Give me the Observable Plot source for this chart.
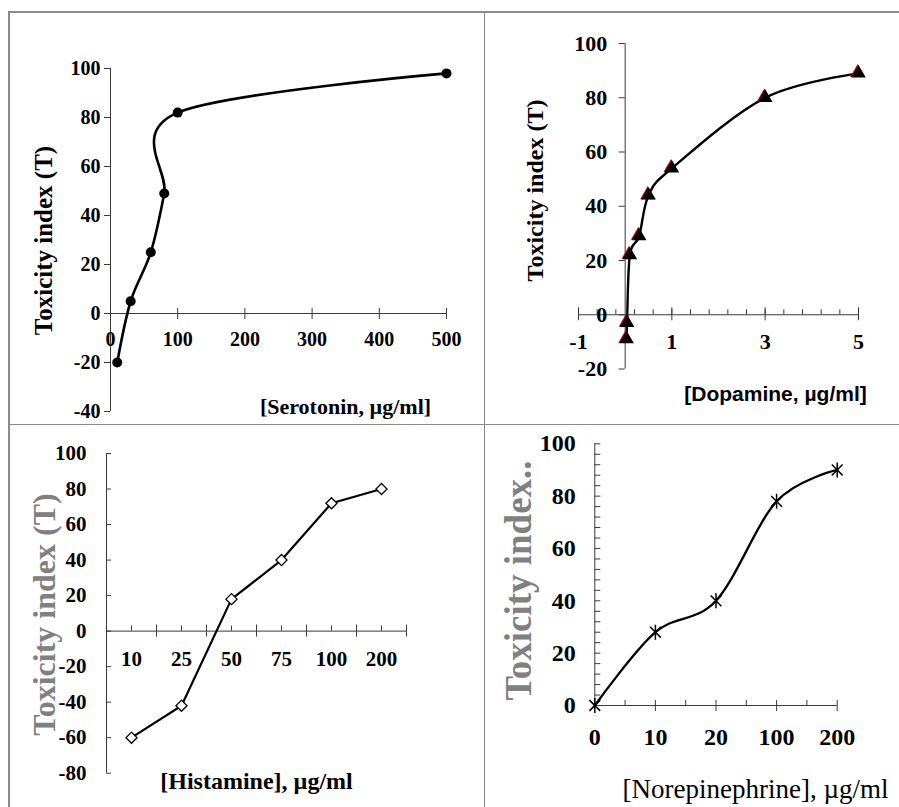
<!DOCTYPE html>
<html>
<head>
<meta charset="utf-8">
<script src="https://cdn.jsdelivr.net/npm/d3@7"></script>
<script src="https://cdn.jsdelivr.net/npm/@observablehq/plot@0.6"></script>
<style>
  html, body { margin: 0; padding: 0; background: #fff; }
  #page { position: relative; width: 899px; height: 807px; overflow: hidden; background: #fff; }
  .frame { position: absolute; background: #8a8a8a; }
</style>
</head>
<body>
<div id="page">
  <div class="frame" style="left:8px; top:11px; width:891px; height:1.5px"></div>
  <div class="frame" style="left:8px; top:11px; width:1.5px; height:796px"></div>
  <div class="frame" style="left:483.5px; top:11px; width:1.5px; height:796px"></div>
  <div class="frame" style="left:8px; top:423.5px; width:891px; height:1.5px"></div>
</div>
<script>
// ---------- data ----------
// Serotonin
const seroConc = [10, 30, 60, 80, 100, 500];
const seroTox = [-20, 5, 25, 49, 82, 98];
const seroXTicks = [0, 100, 200, 300, 400, 500];
const seroYTicks = [-40, -20, 0, 20, 40, 60, 80, 100];
// Dopamine
const dopaConc = [0.03, 0.04, 0.1, 0.3, 0.5, 1, 3, 5];
const dopaTox = [-9, -3, 22, 29, 44, 54, 80, 89];
const dopaXLabels = [-1, 1, 3, 5];
const dopaXMinor = [-1, -0.6, -0.2, 0.2, 0.6, 1, 1.4, 1.8, 2.2, 2.6, 3, 3.4, 3.8, 4.2, 4.6, 5];
const dopaYTicks = [-20, 0, 20, 40, 60, 80, 100];
// Histamine
const histCats = ["10", "25", "50", "75", "100", "200"];
const histTox = [-60, -42, 18, 40, 72, 80];
const histYTicks = [-80, -60, -40, -20, 0, 20, 40, 60, 80, 100];
// Norepinephrine
const norCats = ["0", "10", "20", "100", "200"];
const norTox = [0, 28, 40, 78, 90];
const norYLabels = [0, 20, 40, 60, 80, 100];
const norYMinor = [0, 4, 8, 12, 16, 20, 24, 28, 32, 36, 40, 44, 48, 52, 56, 60, 64, 68, 72, 76, 80, 84, 88, 92, 96, 100];

// ---------- helpers ----------
const SERIF = "'Liberation Serif', 'Times New Roman', serif";
const SANS = "'Liberation Sans', Arial, sans-serif";
const AX = "#3a3a3a";
const page = document.getElementById("page");

function layer(xOpt, yOpt, marks) {
  const svg = Plot.plot({
    width: 899, height: 807, margin: 0,
    x: {...xOpt, axis: null},
    y: {...yOpt, axis: null},
    style: {background: "transparent", position: "absolute", left: "0px", top: "0px", overflow: "visible"},
    marks
  });
  page.appendChild(svg);
  return svg;
}
function title(text, x, y, opts) {
  return Plot.text([text], {
    frameAnchor: "top-left", dx: x, dy: y, textAnchor: "middle", lineAnchor: "middle",
    fontFamily: SERIF, fontWeight: "bold", fill: "black", ...opts
  });
}

const starSymbol = {
  draw(ctx, size) {
    const r = Math.sqrt(size / Math.PI), a = r * 0.72;
    ctx.moveTo(0, -r); ctx.lineTo(0, r);
    ctx.moveTo(-a, -a); ctx.lineTo(a, a);
    ctx.moveTo(-a, a); ctx.lineTo(a, -a);
  }
};

// ---------- Panel 1: Serotonin ----------
const sero = seroConc.map((c, i) => ({c, t: seroTox[i]}));
layer({domain: [0, 500], range: [110, 446]}, {domain: [-40, 100], range: [411, 68]}, [
  Plot.ruleX([0], {y1: -40, y2: 100, stroke: AX}),
  Plot.ruleY([0], {x1: 0, x2: 500, stroke: AX}),
  Plot.ruleY(seroYTicks, {x1: 0, x2: 0, insetLeft: -6, insetRight: 0, stroke: AX}),
  Plot.ruleX(seroXTicks.filter(d => d !== 0), {y1: 0, y2: 0, insetTop: -5, insetBottom: -6, stroke: AX}),
  Plot.text(seroYTicks, {x: 0, y: d => d, text: d => String(d), textAnchor: "end", dx: -10, fontFamily: SERIF, fontWeight: "bold", fontSize: 20}),
  Plot.text(seroXTicks, {x: d => d, y: 0, text: d => String(d), dy: 26, fontFamily: SERIF, fontWeight: "bold", fontSize: 20}),
  Plot.line(sero, {x: "c", y: "t", curve: "cardinal", stroke: "black", strokeWidth: 2.6}),
  Plot.dot(sero, {x: "c", y: "t", r: 5, fill: "black"}),
  title("Toxicity index (T)", 43, 240, {rotate: -90, fontSize: 25}),
  title("[Serotonin, µg/ml]", 345, 406, {fontSize: 22})
]);

// ---------- Panel 2: Dopamine ----------
const dopa = dopaConc.map((c, i) => ({c, t: dopaTox[i]}));
layer({domain: [-1, 5], range: [578, 858]}, {domain: [-20, 100], range: [368.5, 43]}, [
  Plot.ruleX([0], {y1: -20, y2: 100, stroke: AX}),
  Plot.ruleY([0], {x1: -1, x2: 5, stroke: AX}),
  Plot.ruleY(dopaYTicks, {x1: 0, x2: 0, insetLeft: -6, insetRight: 0, stroke: AX}),
  Plot.ruleX(dopaXMinor, {y1: 0, y2: 0, insetTop: -5, insetBottom: 0, stroke: AX}),
  Plot.ruleX(dopaXLabels, {y1: 0, y2: 0, insetTop: -7, insetBottom: -6, stroke: AX}),
  Plot.text(dopaYTicks, {x: 0, y: d => d, text: d => String(d), textAnchor: "end", dx: -18, fontFamily: SERIF, fontWeight: "bold", fontSize: 22}),
  Plot.text(dopaXLabels, {x: d => d, y: 0, text: d => String(d), dy: 27, fontFamily: SERIF, fontWeight: "bold", fontSize: 22}),
  Plot.line(dopa, {x: "c", y: "t", curve: "cardinal", stroke: "black", strokeWidth: 2.4}),
  Plot.dot(dopa, {x: "c", y: "t", symbol: "triangle", r: 5.6, fill: "#c00000", dx: -0.8, dy: -0.6}),
  Plot.dot(dopa, {x: "c", y: "t", symbol: "triangle", r: 5.4, fill: "black"}),
  title("Toxicity index (T)", 535, 190, {rotate: -90, fontSize: 24}),
  title("[Dopamine, µg/ml]", 775, 394, {fontSize: 21, fontFamily: SANS})
]);

// ---------- Panel 3: Histamine ----------
const hist = histCats.map((cat, i) => ({i, cat, t: histTox[i]}));
const histBounds = histCats.map((cat, i) => i + 0.5);
layer({domain: [-0.5, histCats.length - 0.5], range: [106, 406]}, {domain: [-80, 100], range: [772.7, 453]}, [
  Plot.ruleX([-0.5], {y1: -80, y2: 100, stroke: AX}),
  Plot.ruleY([0], {x1: -0.5, x2: histCats.length - 0.5, stroke: AX}),
  Plot.ruleY(histYTicks, {x1: -0.5, x2: -0.5, insetLeft: 0, insetRight: -5, stroke: AX}),
  Plot.ruleX(hist, {x: "i", y1: 0, y2: 0, insetTop: -5, insetBottom: 0, stroke: AX}),
  Plot.ruleX(histBounds, {y1: 0, y2: 0, insetTop: -6, insetBottom: -6, stroke: AX}),
  Plot.text(histYTicks, {x: -0.5, y: d => d, text: d => String(d), textAnchor: "end", dx: -20, fontFamily: SERIF, fontWeight: "bold", fontSize: 21}),
  Plot.text(hist, {x: "i", y: 0, text: "cat", dy: 28, fontFamily: SERIF, fontWeight: "bold", fontSize: 21}),
  Plot.line(hist, {x: "i", y: "t", stroke: "black", strokeWidth: 2.2}),
  Plot.dot(hist, {x: "i", y: "t", symbol: "diamond2", r: 5, fill: "white", stroke: "black", strokeWidth: 1.3}),
  title("Toxicity index (T)", 44, 614, {rotate: -90, fontSize: 32, fill: "#808080"}),
  title("[Histamine], µg/ml", 256, 781, {fontSize: 24})
]);

// ---------- Panel 4: Norepinephrine ----------
const nor = norCats.map((cat, i) => ({i, cat, t: norTox[i]}));
const norMid = norCats.slice(1).map((cat, i) => i + 0.5);
layer({domain: [0, norCats.length - 1], range: [594.3, 836.7]}, {domain: [0, 100], range: [705, 443.3]}, [
  Plot.ruleX([0], {y1: 0, y2: 100, stroke: AX}),
  Plot.ruleY([0], {x1: 0, x2: norCats.length - 1, stroke: AX}),
  Plot.ruleY(norYMinor, {x1: 0, x2: 0, insetLeft: 0, insetRight: -6, stroke: AX}),
  Plot.ruleX(nor.slice(1), {x: "i", y1: 0, y2: 0, insetTop: -5, insetBottom: -6, stroke: AX}),
  Plot.ruleX(norMid, {y1: 0, y2: 0, insetTop: -5, insetBottom: 0, stroke: AX}),
  Plot.text(norYLabels, {x: 0, y: d => d, text: d => String(d), textAnchor: "end", dx: -19, fontFamily: SERIF, fontWeight: "bold", fontSize: 24}),
  Plot.text(nor, {x: "i", y: 0, text: "cat", dy: 32, fontFamily: SERIF, fontWeight: "bold", fontSize: 24}),
  Plot.line(nor, {x: "i", y: "t", curve: "cardinal", stroke: "black", strokeWidth: 2.3}),
  Plot.dot(nor, {x: "i", y: "t", symbol: starSymbol, r: 7.5, fill: "none", stroke: "black", strokeWidth: 1.5}),
  title("Toxicity index..", 519, 580, {rotate: -90, fontSize: 37, fill: "#808080"}),
  title("[Norepinephrine], µg/ml", 755, 789, {fontSize: 27, fontWeight: "normal"})
]);
</script>
</body>
</html>
